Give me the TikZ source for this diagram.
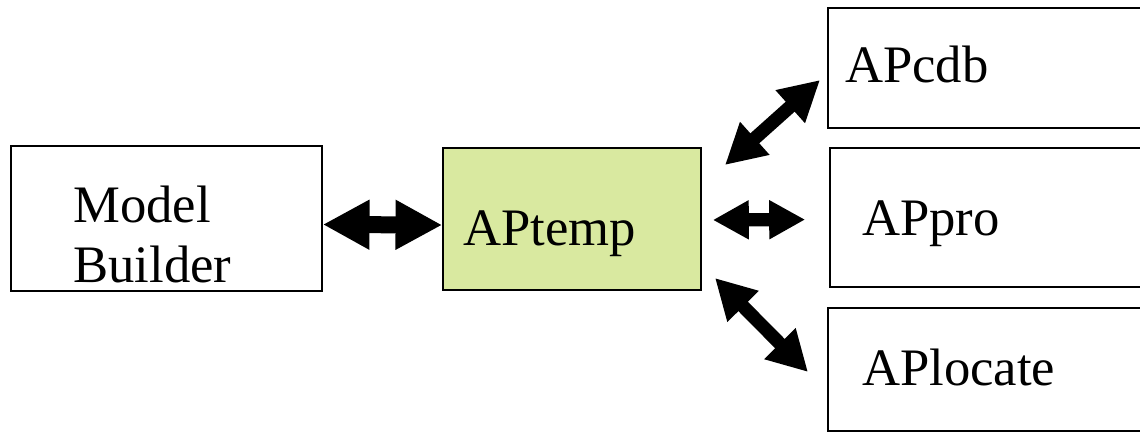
\documentclass[tikz,border=0pt]{standalone}
\usepackage{fontspec}
\setmainfont{Liberation Serif}
\newfontfamily\boxfont{Liberation Serif}
\usetikzlibrary{arrows.meta}

\definecolor{tempgreen}{HTML}{D9E9A0}

\tikzset{
  box/.style={draw=black, line width=1.2pt, rectangle, inner sep=0pt},
  lbl/.style={anchor=base west, inner sep=0pt, align=left,
    font=\boxfont\fontsize{39.5}{45}\selectfont},
  bigdbl/.style={line width=12.75pt,
    {Triangle[length=35pt,width=35pt]}-{Triangle[length=35pt,width=35pt]}},
  smalldbl/.style={line width=10pt,
    {Triangle[length=27pt,width=27.5pt]}-{Triangle[length=27pt,width=27.5pt]}},
  diagdbl/.style={line width=10pt,
    {Triangle[length=30pt,width=31pt]}-{Triangle[length=30pt,width=31pt]}}
}

\begin{document}
\begin{tikzpicture}[x=0.75pt, y=-0.75pt]

  % --- page ---
  \useasboundingbox (0,0) rectangle (1140,433);

  % --- boxes ---
  \node[box, minimum width=233.25pt, minimum height=108.75pt] (mb) at (166.5,218.5) {};
  \node[box, fill=tempgreen, minimum width=193.5pt, minimum height=106.5pt] (apt) at (572,219) {};
  \node[box, minimum width=237.75pt, minimum height=90pt] (cdb) at (986.5,68) {};
  \node[box, minimum width=236.25pt, minimum height=104.25pt] (pro) at (987.5,217.5) {};
  \node[box, minimum width=237.75pt, minimum height=92.25pt] (loc) at (986.5,369.5) {};

  % --- texts ---
  \node[lbl] (mbtext) at (73,282) {Model\\Builder};
  \node[lbl] (apttext) at (463,245) {APtemp};
  \node[lbl] (cdbtext) at (845,82) {APcdb};
  \node[lbl] (protext) at (862,235) {APpro};
  \node[lbl] (loctext) at (862,385) {APlocate};

  % --- free arrow ends ---
  \coordinate (cdbA) at (725,165);
  \coordinate (cdbB) at (820,80);
  \coordinate (locA) at (715,278);
  \coordinate (locB) at (808,372);

  % --- arrows ---
  \draw[bigdbl] ([yshift=-4.5pt]mb.east) -- ([yshift=-4.5pt]apt.west);
  \draw[smalldbl, shorten <=8.25pt, shorten >=18pt] ([yshift=-0.75pt]apt.east) -- ([yshift=-1.5pt]pro.west);
  \draw[diagdbl] (cdbA) -- (cdbB);
  \draw[diagdbl] (locA) -- (locB);

\end{tikzpicture}
\end{document}
